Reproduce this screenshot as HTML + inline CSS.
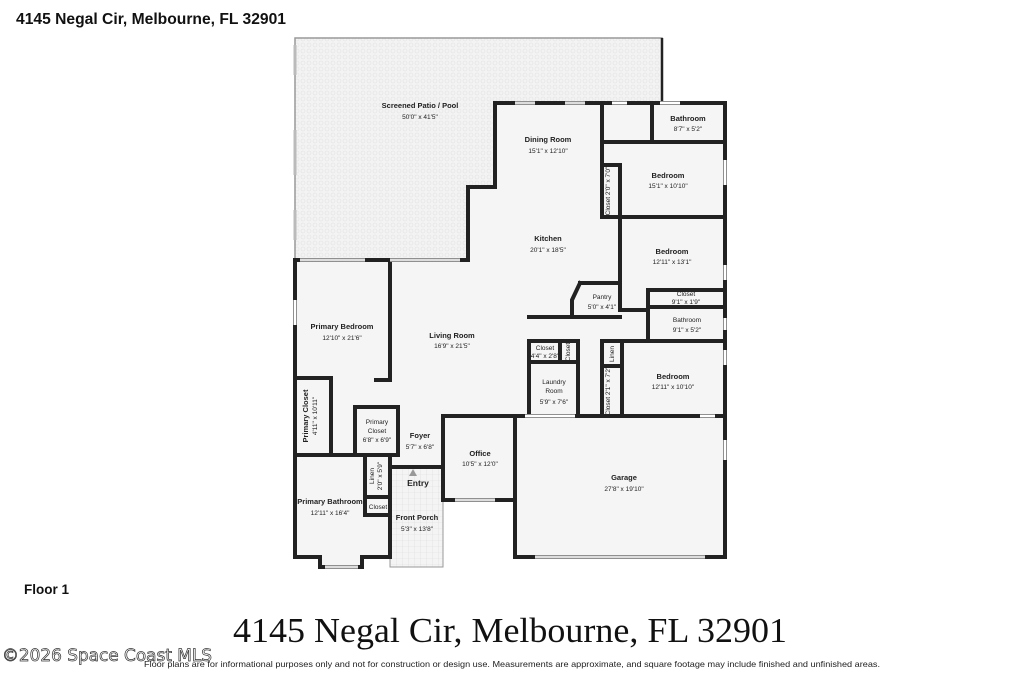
<!DOCTYPE html>
<html><head><meta charset="utf-8"><style>
html,body{margin:0;padding:0;background:#fff;width:1024px;height:683px;overflow:hidden}
svg{display:block}
.l{font-family:"Liberation Sans",sans-serif;font-size:7.5px;fill:#222;text-anchor:middle;font-weight:bold}
.s{font-family:"Liberation Sans",sans-serif;font-size:6.5px;fill:#222;text-anchor:middle}
</style></head><body>
<svg width="1024" height="683" viewBox="0 0 1024 683" xmlns="http://www.w3.org/2000/svg">
<defs>
<pattern id="tile" width="6" height="6" patternUnits="userSpaceOnUse"><rect width="6" height="6" fill="#f3f3f3"/><circle cx="3" cy="3" r="2" fill="none" stroke="#e2e2e2" stroke-width="0.6"/></pattern>
<pattern id="grid" width="6" height="6" patternUnits="userSpaceOnUse"><rect width="6" height="6" fill="#f4f4f4"/><path d="M0 0H6M0 0V6" stroke="#dcdcdc" stroke-width="0.6"/></pattern>
</defs>
<text x="16" y="24" font-family="Liberation Sans,sans-serif" font-weight="bold" font-size="15.5" fill="#111" textLength="270" lengthAdjust="spacingAndGlyphs">4145 Negal Cir, Melbourne, FL 32901</text>

<!-- patio -->
<path d="M295 38H662V103H495V187H468V260H295Z" fill="url(#tile)" stroke="#999" stroke-width="1.5"/>
<line x1="662" y1="38" x2="662" y2="103" stroke="#222" stroke-width="2.5"/>
<g stroke="#bbb" stroke-width="3"><path d="M295 45V75M295 130V175M295 210V240"/></g>
<!-- interior fill -->
<path d="M295 260H468V187H495V103H725V557H515V500H443V467H390V557H362V567H320V557H295Z" fill="#f5f5f5"/>
<rect x="390" y="467" width="53" height="100" fill="url(#grid)" stroke="#999" stroke-width="1"/>

<g stroke="#222" stroke-width="4" fill="none" stroke-linecap="square">
<path d="M495 187V103H725V557H515"/>
<path d="M495 187H468V260H295V557H320V567H362V557H390V467"/>
<path d="M443 467V500H515V416"/>
<path d="M602 103V157M602 142H725M652 103V142M602 142V217H725M620 165V217M602 165H620"/>
<path d="M620 217V310M580 283H620M580 283L572 300V317M529 317H620"/>
<path d="M648 290H725M648 290V341M648 307H725M620 310H648"/>
<path d="M529 341H578V416M529 341V416M529 362H578M560 341V362"/>
<path d="M602 341H622M602 341V416M602 366H622M622 341V416M622 341H725"/>
<path d="M443 416H725M443 416V500M515 416V557"/>
<path d="M390 260V380H376"/>
<path d="M295 378H331V455H295M295 455H388"/>
<path d="M355 407H398V455H355ZM365 455V515H390M365 497H390M390 455V557"/>
<path d="M390 467H443"/>
</g>
<g stroke="#fff" stroke-width="3">
<path d="M515 103H535M565 103H585M612 103H627M660 103H680"/>
<path d="M300 260H365M390 260H460"/>
<path d="M725 160V185M725 265V280M725 318V330M725 350V365M725 440V460"/>
<path d="M525 416H575M700 416H715"/>
<path d="M455 500H495M535 557H705"/>
<path d="M325 567H358M295 300V325"/>
</g>
<g stroke="#bbb" stroke-width="1"><path d="M515 103H535M565 103H585M300 260H365M390 260H460M455 500H495M535 557H705M325 567H358"/></g>

<text class="l" x="420" y="108">Screened Patio / Pool</text><text class="s" x="420" y="119">50'0" x 41'5"</text>
<text class="l" x="548" y="142">Dining Room</text><text class="s" x="548" y="153">15'1" x 12'10"</text>
<text class="l" x="688" y="121">Bathroom</text><text class="s" x="688" y="131">8'7" x 5'2"</text>
<text class="l" x="668" y="178">Bedroom</text><text class="s" x="668" y="188">15'1" x 10'10"</text>
<text class="s" transform="translate(610,191) rotate(-90)">Closet 2'0" x 7'0"</text>
<text class="l" x="548" y="241">Kitchen</text><text class="s" x="548" y="252">20'1" x 18'5"</text>
<text class="l" x="672" y="254">Bedroom</text><text class="s" x="672" y="264">12'11" x 13'1"</text>
<text class="s" x="686" y="296">Closet</text><text class="s" x="686" y="304">9'1" x 1'9"</text>
<text class="s" x="602" y="299">Pantry</text><text class="s" x="602" y="309">5'0" x 4'1"</text>
<text class="s" x="687" y="322">Bathroom</text><text class="s" x="687" y="332">9'1" x 5'2"</text>
<text class="l" x="342" y="329">Primary Bedroom</text><text class="s" x="342" y="340">12'10" x 21'6"</text>
<text class="l" x="452" y="338">Living Room</text><text class="s" x="452" y="348">16'9" x 21'5"</text>
<text class="s" x="545" y="350">Closet</text><text class="s" x="545" y="358">4'4" x 2'8"</text>
<text class="s" transform="translate(570,352) rotate(-90)">Closet</text>
<text class="s" transform="translate(614,354) rotate(-90)">Linen</text>
<text class="s" x="554" y="384">Laundry</text><text class="s" x="554" y="393">Room</text><text class="s" x="554" y="404">5'9" x 7'6"</text>
<text class="s" transform="translate(610,391) rotate(-90)">Closet 2'1" x 7'2"</text>
<text class="l" x="673" y="379">Bedroom</text><text class="s" x="673" y="389">12'11" x 10'10"</text>
<text class="l" transform="translate(308,416) rotate(-90)">Primary Closet</text>
<text class="s" transform="translate(317,416) rotate(-90)">4'11" x 10'11"</text>
<text class="s" x="377" y="424">Primary</text><text class="s" x="377" y="433">Closet</text><text class="s" x="377" y="442">6'8" x 6'9"</text>
<text class="l" x="420" y="438">Foyer</text><text class="s" x="420" y="449">5'7" x 6'8"</text>
<text class="l" x="480" y="456">Office</text><text class="s" x="480" y="466">10'5" x 12'0"</text>
<text class="l" x="624" y="480">Garage</text><text class="s" x="624" y="491">27'8" x 19'10"</text>
<polygon points="413,469 417,476 409,476" fill="#999"/>
<text class="l" x="418" y="486" style="font-size:8.5px">Entry</text>
<text class="s" transform="translate(374,476) rotate(-90)">Linen</text>
<text class="s" transform="translate(382,476) rotate(-90)">2'0" x 5'9"</text>
<text class="s" x="378" y="509">Closet</text>
<text class="l" x="330" y="504">Primary Bathroom</text><text class="s" x="330" y="515">12'11" x 16'4"</text>
<text class="l" x="417" y="520">Front Porch</text><text class="s" x="417" y="531">5'3" x 13'8"</text>

<text x="24" y="594" font-family="Liberation Sans,sans-serif" font-weight="bold" font-size="13.5" fill="#111">Floor 1</text>
<text x="233" y="642" font-family="Liberation Serif,serif" font-size="35" fill="#111" textLength="554" lengthAdjust="spacingAndGlyphs">4145 Negal Cir, Melbourne, FL 32901</text>
<text x="2" y="661" font-family="DejaVu Sans,sans-serif" font-size="16.5" fill="#fff" stroke="#333" stroke-width="0.7" textLength="210" lengthAdjust="spacingAndGlyphs">©2026 Space Coast MLS</text>
<text x="144" y="667" font-family="Liberation Sans,sans-serif" font-size="8.5" fill="#222" textLength="736" lengthAdjust="spacingAndGlyphs">Floor plans are for informational purposes only and not for construction or design use. Measurements are approximate, and square footage may include finished and unfinished areas.</text>
</svg>
</body></html>
